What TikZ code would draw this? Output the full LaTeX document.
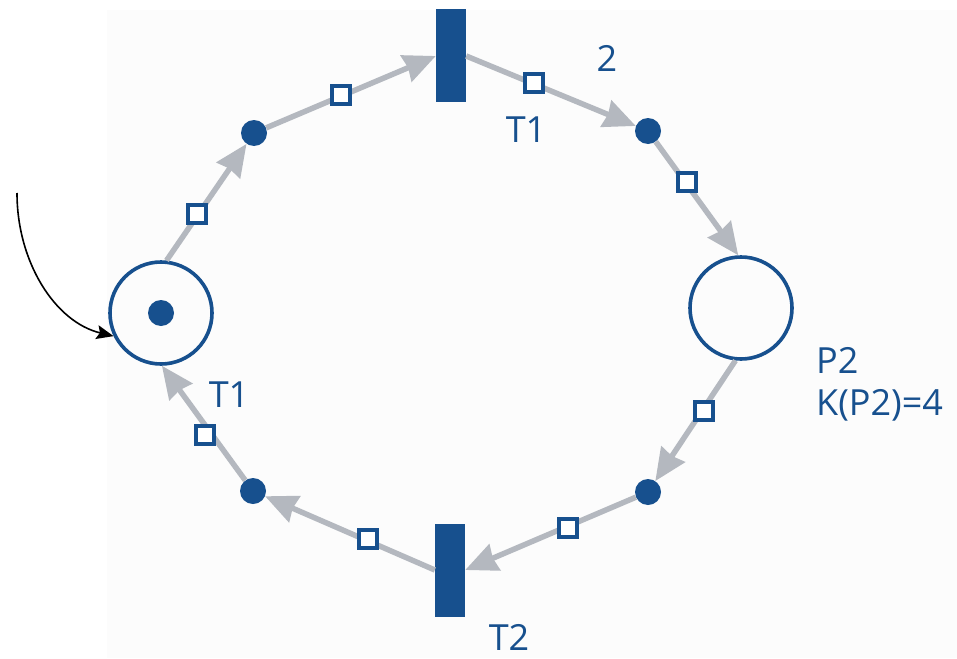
\documentclass[tikz,border=0pt]{standalone}
\usepackage{fontspec}
\setmainfont{Open Sans}
\usetikzlibrary{arrows.meta}
\definecolor{pblue}{RGB}{23,80,142}
\definecolor{agray}{RGB}{180,184,191}
\definecolor{bgc}{RGB}{252,252,252}
\begin{document}
\begin{tikzpicture}[x=1pt,y=-1pt,
  place/.style={circle, draw=pblue, line width=3.6pt, minimum size=102pt, inner sep=0pt},
  tok/.style={circle, fill=pblue, minimum size=26pt, inner sep=0pt},
  trans/.style={rectangle, fill=pblue, minimum width=30pt, minimum height=93pt, inner sep=0pt},
  sq/.style={rectangle, draw=pblue, fill=white, line width=4.2pt, minimum size=18pt, inner sep=0pt},
  arc/.style={draw=agray, line width=5.5pt, -{Stealth[length=32pt,width=28pt,inset=2pt]}},
  lbl/.style={text=pblue, font=\fontsize{36}{40}\selectfont, inner sep=0pt}]
\useasboundingbox (0,0) rectangle (957,658);
\fill[bgc] (107,10) rectangle (957,658);
% places, transitions, intermediate dots
\node[place] (P1) at (161,313) {};
\node[tok] (m) at (P1) {};
\node[place] (P2) at (741,308) {};
\node[trans] (T1) at (451,56) {};
\node[trans] (T2) at (450,570) {};
\node[tok] (d1) at (254,133) {};
\node[tok] (d2) at (648,131) {};
\node[tok] (d3) at (648,492) {};
\node[tok] (d4) at (253,491) {};
% arcs
\draw[arc] (P1.84) -- (d1);
\draw[arc] (d1) -- (T1.west);
\draw[arc] (T1.east) -- (d2);
\draw[arc] (d2) -- (P2.93);
\draw[arc] (P2.-96) -- (d3);
\draw[arc] (d3) -- (T2.east);
\draw[arc] (T2.west) -- (d4);
\draw[arc] (d4) -- (P1.-89);
% squares
\node[sq] (s1) at (197,214) {};
\node[sq] (s2) at (341,95) {};
\node[sq] (s3) at (534,83) {};
\node[sq] (s4) at (687,182) {};
\node[sq] (s5) at (704,411) {};
\node[sq] (s6) at (568,528) {};
\node[sq] (s7) at (368,539) {};
\node[sq] (s8) at (205,435) {};
% labels
\node[lbl, anchor=base] (l2) at (607,72) {2};
\node[lbl, anchor=base] (lT1a) at (526,142) {T1};
\node[lbl, anchor=base] (lT1b) at (229,407) {T1};
\node[lbl, anchor=base] (lT2) at (509,650) {T2};
\node[lbl, anchor=base west] (lP2) at (816,373) {P2};
\node[lbl, anchor=base west] (lK) at (816,415) {K(P2)=4};
% entry arrow
\coordinate (bs) at (17,193);
\draw[black, line width=1.6pt, -{Stealth[length=17pt,width=14pt,inset=3pt]}] (bs) .. controls (17,262) and (55,322) .. (P1.206);
\end{tikzpicture}
\end{document}
